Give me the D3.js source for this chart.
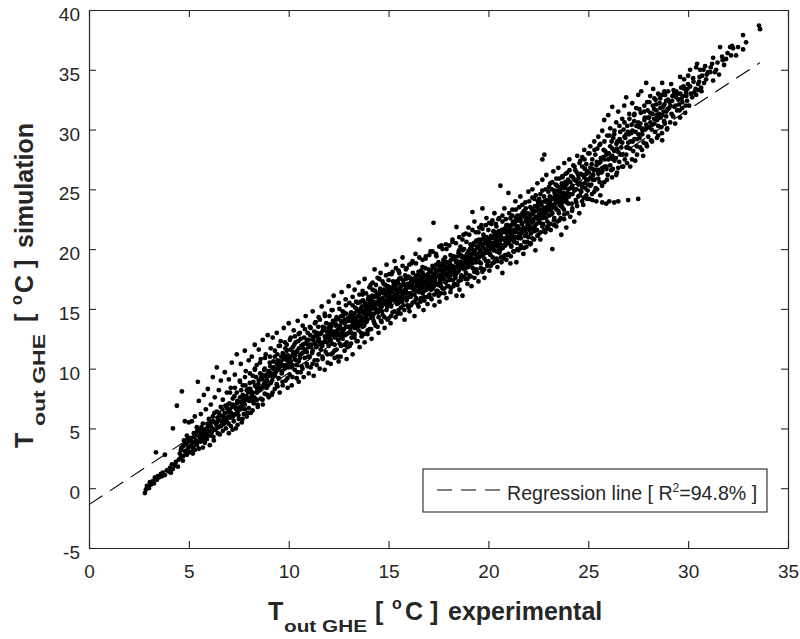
<!DOCTYPE html>
<html>
<head>
<meta charset="utf-8">
<script src="https://cdn.jsdelivr.net/npm/d3@7"></script>
<style>
  html, body { margin: 0; padding: 0; background: #fff; }
  svg { display: block; font-family: "Liberation Sans", Arial, Helvetica, sans-serif; }
  text { white-space: pre; }
</style>
</head>
<body>
<svg id="chart" width="800" height="639"></svg>
<script>
// ---- data ----
const xTicks = [0, 5, 10, 15, 20, 25, 30, 35];
const yTicks = [-5, 0, 5, 10, 15, 20, 25, 30, 35, 40];
const xDomain = [0, 35];
const yDomain = [-5, 40];
// regression line end points [experimental, simulation]
const regressionLine = [[0, -1.37], [33.6, 35.6]];
const legendLabel = ["Regression line [ R", "2", "=94.8% ]"];
// measured points [T_out experimental, T_out simulation] - outer spread
const points = [
[2.8,-0.4],[2.85,-0.1],[2.9,0.2],[3.0,0.0],[3.05,0.5],[3.1,0.3],[3.2,0.6],[3.25,0.4],[3.3,0.9],[3.35,3.0],[3.4,0.7],[3.45,1.0],
[3.5,0.9],[3.6,1.2],[3.65,1.0],[3.7,1.3],[3.8,2.8],[3.8,1.1],[3.9,1.5],[4.0,1.4],[4.05,1.7],[4.1,1.3],[4.15,2.0],[4.2,1.6],[4.2,5.0],[4.3,1.9],[4.35,2.2],[4.4,6.9],[4.45,1.8],[4.5,2.4],
[4.55,2.9],[4.6,3.2],[4.6,2.6],[4.65,8.1],[4.7,3.5],[4.7,2.3],[4.75,4.0],[4.8,3.1],[4.8,5.6],[4.85,3.7],[4.9,2.8],[4.9,4.4],[4.95,3.3],[5.0,3.9],[5.0,5.5],
[5.05,3.0],[5.1,4.2],[5.1,3.5],[5.15,5.6],[5.2,2.9],[5.2,3.8],[5.25,4.6],[5.3,3.2],[5.3,6.0],[5.35,4.0],[5.4,3.6],[5.4,5.1],[5.45,8.9],[5.45,4.4],[5.5,3.3],[5.5,7.3],
[5.55,4.8],[5.6,3.9],[5.6,6.2],[5.65,4.3],[5.7,3.4],[5.7,5.4],[5.75,7.8],[5.8,4.6],[5.8,3.8],[5.85,6.6],[5.9,5.0],[5.9,4.1],[5.95,8.3],[6.0,4.4],[6.0,5.8],
[6.05,3.6],[6.1,5.2],[6.1,7.0],[6.15,4.7],[6.2,9.3],[6.2,6.0],[6.25,4.0],[6.3,5.5],[6.3,7.6],[6.35,4.9],[6.4,10.1],[6.4,6.4],[6.45,4.6],[6.5,8.2],[6.5,5.7],
[6.55,4.5],[6.6,6.8],[6.6,9.0],[6.65,5.3],[6.7,4.8],[6.7,7.4],[6.75,5.9],[6.8,9.7],[6.8,6.3],[6.85,5.0],[6.9,8.0],[6.9,5.6],[6.95,7.0],[7.0,6.0],[7.0,9.1],[7.0,4.6],
[7.05,6.6],[7.1,5.2],[7.1,8.4],[7.15,10.5],[7.2,6.2],[7.2,7.5],[7.25,5.6],[7.3,9.5],[7.3,6.9],[7.35,5.0],[7.4,8.0],[7.4,11.2],[7.45,6.4],[7.5,7.2],[7.5,5.8],
[7.55,9.0],[7.6,6.6],[7.6,10.4],[7.65,5.5],[7.7,7.8],[7.7,8.6],[7.75,6.2],[7.8,11.5],[7.8,7.0],[7.85,9.8],[7.9,6.0],[7.9,8.2],[7.95,7.4],[8.0,10.7],[8.0,6.7],
[8.05,8.8],[8.1,7.6],[8.1,6.3],[8.15,11.0],[8.2,9.4],[8.2,8.0],[8.25,7.1],[8.3,12.0],[8.3,9.9],[8.35,8.5],[8.4,7.4],[8.4,10.3],[8.45,6.8],[8.5,9.0],[8.5,11.6],
[8.55,8.2],[8.6,7.5],[8.6,10.8],[8.65,9.5],[8.7,7.0],[8.7,12.4],[8.75,8.7],[8.8,10.0],[8.8,7.9],[8.85,11.2],[8.9,9.1],[8.9,8.4],[8.95,12.8],[9.0,7.6],[9.0,9.8],
[9.05,10.5],[9.1,8.8],[9.1,11.7],[9.15,7.8],[9.2,9.3],[9.2,12.6],[9.25,10.1],[9.3,8.3],[9.3,11.0],[9.35,9.7],[9.4,13.0],[9.4,8.7],[9.45,10.7],[9.5,9.2],[9.5,11.9],
[9.55,8.0],[9.6,10.2],[9.6,12.3],[9.65,9.6],[9.7,11.3],[9.7,8.6],[9.75,13.4],[9.8,10.0],[9.8,10.9],[9.85,9.0],[9.9,12.0],[9.9,11.5],[9.95,8.4],[10.0,10.4],[10.0,13.8],
[10.05,9.5],[10.1,11.0],[10.1,12.6],[10.15,8.6],[10.2,10.3],[10.2,11.8],[10.25,13.2],[10.3,9.9],[10.3,10.8],[10.35,12.2],[10.4,9.2],[10.4,11.4],[10.45,14.0],[10.5,10.6],[10.5,12.9],[10.5,8.9],
[10.55,11.1],[10.6,9.7],[10.6,12.5],[10.65,10.2],[10.7,13.6],[10.7,11.7],[10.75,9.3],[10.8,10.9],[10.8,12.1],[10.85,14.4],[10.9,10.4],[10.9,11.4],[10.95,13.0],[11.0,9.6],[11.0,12.4],
[11.05,11.0],[11.1,13.4],[11.1,10.1],[11.15,12.0],[11.2,14.8],[11.2,11.5],[11.25,9.4],[11.3,12.7],[11.3,10.7],[11.35,13.9],[11.4,11.9],[11.4,10.3],[11.45,12.3],[11.5,14.3],[11.5,11.2],
[11.55,10.0],[11.6,12.9],[11.6,11.6],[11.65,15.2],[11.7,10.8],[11.7,13.5],[11.75,12.2],[11.8,9.9],[11.8,14.6],[11.85,11.4],[11.9,12.6],[11.9,13.1],[11.95,10.5],[12.0,15.6],[12.0,11.9],
[12.05,13.7],[12.1,10.4],[12.1,12.4],[12.15,14.9],[12.2,11.3],[12.2,13.0],[12.25,16.1],[12.3,12.0],[12.3,10.9],[12.35,13.6],[12.4,14.3],[12.4,11.6],[12.45,12.8],[12.5,15.5],[12.5,10.6],[12.5,13.3],
[12.55,12.1],[12.6,14.0],[12.6,11.0],[12.65,16.4],[12.7,13.1],[12.7,12.5],[12.75,14.7],[12.8,11.5],[12.8,13.8],[12.85,15.8],[12.9,12.2],[12.9,10.8],[12.95,14.2],[13.0,13.0],[13.0,16.9],
[13.05,11.9],[13.1,14.5],[13.1,13.4],[13.15,12.6],[13.2,15.3],[13.2,11.2],[13.25,14.0],[13.3,16.6],[13.3,12.9],[13.35,13.7],[13.4,15.0],[13.4,12.3],[13.45,14.4],[13.5,17.2],[13.5,13.2],
[13.55,11.8],[13.6,15.6],[13.6,14.1],[13.65,12.7],[13.7,16.2],[13.7,13.5],[13.75,14.8],[13.8,12.2],[13.8,17.5],[13.85,15.2],[13.9,13.9],[13.9,14.5],[13.95,12.9],[14.0,16.0],[14.0,15.0],
[14.05,13.3],[14.1,17.0],[14.1,14.6],[14.15,12.5],[14.2,15.5],[14.2,16.6],[14.25,14.0],[14.3,18.3],[14.3,15.1],[14.35,13.6],[14.4,16.2],[14.4,14.8],[14.45,17.6],[14.5,15.7],[14.5,13.0],[14.5,14.3],
[14.55,16.4],[14.6,15.0],[14.6,18.0],[14.65,13.9],[14.7,15.9],[14.7,14.5],[14.75,17.1],[14.8,16.3],[14.8,13.4],[14.85,15.4],[14.9,18.7],[14.9,14.9],[14.95,16.8],[15.0,15.6],[15.0,14.2],[15.0,17.4],
[15.05,16.1],[15.1,13.8],[15.1,15.3],[15.15,17.9],[15.2,16.6],[15.2,14.7],[15.25,15.9],[15.3,19.0],[15.3,16.9],[15.35,14.3],[15.4,15.7],[15.4,17.3],[15.45,16.3],[15.5,14.9],[15.5,18.2],[15.5,15.5],
[15.55,16.7],[15.6,14.6],[15.6,17.6],[15.65,15.9],[15.7,16.2],[15.7,19.3],[15.75,15.3],[15.8,17.0],[15.8,14.1],[15.85,16.5],[15.9,18.4],[15.9,15.7],[15.95,16.9],[16.0,17.7],[16.0,15.1],[16.0,16.3],
[16.05,14.8],[16.1,17.2],[16.1,16.0],[16.15,18.8],[16.2,15.5],[16.2,16.7],[16.25,17.5],[16.3,14.4],[16.3,16.2],[16.35,19.6],[16.4,17.0],[16.4,15.8],[16.45,16.5],[16.5,18.1],[16.5,15.2],[16.5,17.4],
[16.55,20.8],[16.6,16.9],[16.6,15.6],[16.65,17.7],[16.7,16.3],[16.7,18.5],[16.75,14.9],[16.8,17.1],[16.8,16.0],[16.85,19.2],[16.9,16.6],[16.9,17.8],[16.95,15.4],[17.0,18.3],[17.0,16.8],[17.0,17.4],
[17.05,16.2],[17.1,19.8],[17.1,17.6],[17.15,15.8],[17.2,16.9],[17.2,18.6],[17.25,22.2],[17.3,17.2],[17.3,15.3],[17.35,18.0],[17.4,16.5],[17.4,19.4],[17.45,17.8],[17.5,16.1],[17.5,18.9],[17.5,17.0],
[17.55,15.6],[17.6,17.5],[17.6,18.3],[17.65,20.3],[17.7,16.7],[17.7,17.9],[17.75,19.1],[17.8,16.3],[17.8,18.6],[17.85,17.2],[17.9,15.9],[17.9,20.0],[17.95,17.7],[18.0,18.9],[18.0,16.9],[18.0,18.2],
[18.05,17.4],[18.1,19.5],[18.1,16.4],[18.15,18.5],[18.2,17.9],[18.2,20.6],[18.25,16.9],[18.3,18.1],[18.3,19.2],[18.35,17.6],[18.4,16.1],[18.4,21.85],[18.45,18.8],[18.5,17.3],[18.5,19.7],[18.5,18.4],
[18.55,16.6],[18.6,18.9],[18.6,20.2],[18.65,17.8],[18.7,19.4],[18.7,16.1],[18.75,21.2],[18.8,18.3],[18.8,19.0],[18.85,17.5],[18.9,20.6],[18.9,18.7],[18.95,17.1],[19.0,19.8],[19.0,21.8],[19.0,18.5],
[19.05,17.8],[19.1,19.3],[19.1,20.4],[19.15,16.9],[19.2,18.8],[19.2,23.1],[19.25,19.9],[19.3,17.6],[19.3,22.3],[19.35,19.1],[19.4,20.7],[19.4,18.3],[19.45,19.6],[19.5,21.4],[19.5,17.3],[19.5,20.1],
[19.55,18.9],[19.6,20.5],[19.6,19.4],[19.65,22.0],[19.7,18.1],[19.7,23.4],[19.75,21.2],[19.8,19.2],[19.8,17.6],[19.85,20.8],[19.9,19.7],[19.9,22.6],[19.95,18.6],[20.0,20.3],[20.0,21.6],[20.0,19.0],
[20.05,18.2],[20.1,20.9],[20.1,19.5],[20.15,22.1],[20.2,20.1],[20.2,18.8],[20.25,21.5],[20.3,19.9],[20.3,23.0],[20.35,20.6],[20.4,19.2],[20.4,21.9],[20.45,18.5],[20.5,20.4],[20.5,22.5],[20.6,25.3],
[20.55,19.7],[20.6,21.2],[20.6,20.0],[20.65,18.9],[20.7,22.3],[20.7,18.0],[20.75,19.4],[20.8,21.7],[20.8,23.4],[20.85,20.3],[20.9,19.1],[20.9,22.0],[20.95,21.0],[21.0,20.5],[21.0,24.7],[21.0,19.6],
[21.05,21.4],[21.1,18.8],[21.1,22.6],[21.15,20.2],[21.2,21.1],[21.2,23.3],[21.25,19.8],[21.3,22.1],[21.3,20.6],[21.35,24.0],[21.4,18.9],[21.4,21.6],[21.45,22.8],[21.5,20.9],[21.5,19.9],
[21.55,22.4],[21.6,21.2],[21.6,24.4],[21.65,20.1],[21.7,23.0],[21.7,21.7],[21.75,19.6],[21.8,22.7],[21.8,20.6],[21.85,23.9],[21.9,21.3],[21.9,20.2],[21.95,22.2],[22.0,24.8],[22.0,21.0],
[22.05,22.6],[22.1,20.4],[22.1,23.5],[22.15,21.8],[22.2,25.0],[22.2,20.9],[22.25,22.9],[22.3,24.2],[22.3,21.5],[22.35,19.9],[22.4,23.2],[22.4,22.1],[22.45,25.5],[22.5,21.2],[22.5,23.8],
[22.55,22.5],[22.6,24.6],[22.6,20.8],[22.65,23.1],[22.7,21.9],[22.7,25.8],[22.75,22.8],[22.8,27.9],[22.7,27.5],[22.8,24.0],[22.85,21.4],[22.9,23.5],[22.9,26.2],[22.95,22.3],[23.0,24.8],[23.0,21.7],
[23.05,23.4],[23.1,25.5],[23.1,22.1],[23.15,24.3],[23.2,20.0],[23.2,23.0],[23.25,26.5],[23.3,24.9],[23.3,22.6],[23.35,23.8],[23.4,25.9],[23.4,21.9],[23.45,24.5],[23.5,23.2],[23.5,26.8],
[23.55,22.4],[23.6,25.2],[23.6,24.0],[23.65,21.2],[23.7,26.0],[23.7,23.5],[23.75,24.7],[23.8,27.2],[23.8,22.9],[23.85,25.6],[23.9,24.2],[23.9,21.8],[23.95,26.4],[24.0,23.8],[24.0,25.0],
[24.05,27.5],[24.1,22.7],[24.1,24.6],[24.15,26.1],[24.2,25.3],[24.2,23.4],[24.25,27.0],[24.3,24.9],[24.3,22.3],[24.35,26.6],[24.4,25.7],[24.4,23.9],[24.45,27.8],[24.5,24.4],[24.5,26.2],
[24.55,23.0],[24.6,25.5],[24.6,27.4],[24.65,24.8],[24.7,26.9],[24.7,27.7],[24.75,23.7],[24.8,26.0],[24.8,28.3],[24.85,25.1],[24.9,27.1],[24.9,24.5],[24.95,26.5],[25.0,28.0],[25.0,25.8],
[25.05,24.2],[25.1,26.8],[25.1,28.6],[25.15,25.4],[25.2,24.1],[25.2,27.5],[25.25,26.2],[25.3,29.0],[25.3,24.8],[25.35,27.9],[25.4,26.6],[25.4,24.0],[25.45,28.4],[25.5,25.9],[25.5,29.4],
[25.55,27.2],[25.6,24.5],[25.6,28.8],[25.65,26.4],[25.7,23.9],[25.7,29.9],[25.75,27.7],[25.8,25.6],[25.8,30.8],[25.85,28.2],[25.9,23.8],[25.9,26.9],[25.95,29.5],[26.0,27.5],[26.0,31.2],
[26.05,24.0],[26.1,28.6],[26.1,30.1],[26.15,26.6],[26.2,31.9],[26.2,27.8],[26.25,29.3],[26.3,23.9],[26.3,28.2],[26.4,30.6],[26.4,26.2],[26.45,29.0],[26.5,24.0],[26.5,31.5],
[26.55,27.3],[26.6,29.8],[26.65,28.5],[26.75,26.9],[26.7,30.9],[26.8,32.0],[26.85,29.3],[26.9,27.9],[26.9,32.7],[26.95,30.3],[27.0,24.1],[27.0,28.9],
[27.05,31.3],[27.1,26.9],[27.15,29.7],[27.2,32.2],[27.25,28.2],[27.3,30.7],[27.35,27.4],[27.4,31.8],[27.45,29.2],[27.5,24.2],[27.5,32.9],
[27.55,30.2],[27.6,28.5],[27.65,33.2],[27.7,29.6],[27.75,27.8],[27.8,31.5],[27.85,30.0],[27.9,33.9],[27.9,28.8],[27.95,32.3],[28.0,29.4],
[28.05,31.0],[28.1,32.8],[28.15,29.1],[28.2,30.4],[28.25,33.4],[28.3,31.7],[28.35,29.8],[28.4,32.1],[28.45,30.8],[28.5,33.0],[28.5,29.5],
[28.55,31.3],[28.6,32.6],[28.65,30.2],[28.7,29.1],[28.7,33.9],[28.75,31.9],[28.8,30.7],[28.85,32.9],[28.9,31.1],[28.95,30.1],[29.0,33.2],
[29.05,31.8],[29.1,30.6],[29.15,33.8],[29.2,32.4],[29.25,31.1],[29.3,33.0],[29.35,30.5],[29.4,32.7],[29.45,31.6],[29.6,34.4],
[29.55,32.1],[29.6,31.0],[29.65,33.5],[29.7,31.8],[29.75,32.8],[29.8,34.2],[29.85,31.4],[29.9,33.1],[29.95,32.4],[30.0,34.5],
[30.05,32.0],[30.1,33.6],[30.1,35.0],[30.2,32.7],[30.25,34.3],[30.3,33.1],[30.4,35.2],[30.4,32.9],[30.45,35.5],[30.5,33.8],[30.5,33.3],
[30.55,34.0],[30.6,35.0],[30.65,33.5],[30.7,34.5],[30.8,33.9],[30.85,35.3],[30.9,34.2],[31.0,34.8],
[31.1,34.8],[31.2,35.5],[31.25,34.1],[31.25,36.0],[31.4,35.0],[31.55,34.6],[31.6,36.9],[31.7,36.1],[31.8,35.4],[31.9,35.9],
[32.1,36.9],[32.2,37.0],[32.25,36.8],[32.4,36.2],[32.75,36.7],[32.75,37.9],[32.9,37.3],[33.55,38.7],[33.6,38.4]
];
// measured points - dense core of the cloud
const pointsCore = [
[4.63,3.4],[4.72,2.7],[4.78,3.6],[4.87,3.0],[4.93,4.1],[5.03,3.5],[5.12,3.9],[5.18,3.1],[5.27,4.3],[5.33,3.7],[5.42,4.8],[5.48,3.9],[5.57,4.2],[5.63,5.1],[5.72,4.0],[5.78,4.9],[5.87,4.4],[5.93,5.4],
[6.03,4.8],[6.08,5.5],[6.17,5.0],[6.23,4.3],[6.28,6.3],[6.37,5.3],[6.43,5.9],[6.48,5.1],[6.57,6.1],[6.62,5.6],[6.68,6.6],[6.77,5.4],[6.83,6.9],[6.88,5.9],[6.97,6.4],
[7.03,7.1],[7.08,5.9],[7.17,6.8],[7.22,6.0],[7.28,7.7],[7.37,6.6],[7.43,7.3],[7.48,6.1],[7.57,7.6],[7.62,8.2],[7.68,6.9],[7.77,7.3],[7.83,8.6],[7.88,7.7],[7.97,8.0],
[8.03,7.3],[8.08,8.3],[8.17,7.9],[8.23,8.9],[8.28,7.6],[8.37,9.3],[8.43,8.2],[8.48,8.7],[8.57,9.6],[8.63,8.4],[8.68,9.1],[8.77,9.9],[8.83,8.8],[8.88,9.5],[8.97,8.6],
[9.03,9.4],[9.08,10.2],[9.17,9.0],[9.23,10.6],[9.28,9.6],[9.37,10.0],[9.43,11.2],[9.48,9.9],[9.57,10.5],[9.63,11.0],[9.68,9.8],[9.77,10.8],[9.83,11.7],[9.88,10.3],[9.97,11.1],
[10.03,10.9],[10.08,11.6],[10.17,10.1],[10.23,11.2],[10.28,12.0],[10.37,10.7],[10.43,11.5],[10.48,12.3],[10.57,10.9],[10.63,11.9],[10.68,11.3],[10.77,12.6],[10.83,11.6],[10.88,12.1],[10.97,11.0],
[11.03,12.0],[11.08,12.8],[11.17,11.3],[11.23,12.4],[11.28,13.1],[11.37,11.8],[11.43,12.7],[11.48,13.5],[11.57,12.2],[11.63,13.0],[11.68,11.9],[11.77,13.4],[11.83,12.5],[11.88,13.8],[11.97,12.9],
[12.03,12.6],[12.08,13.3],[12.17,12.1],[12.23,13.8],[12.28,12.9],[12.37,14.1],[12.43,13.2],[12.48,12.4],[12.57,13.6],[12.63,14.4],[12.68,13.0],[12.77,13.9],[12.83,12.8],[12.88,14.6],[12.97,13.5],
[13.03,14.0],[13.07,13.1],[13.13,14.7],[13.18,13.6],[13.22,14.3],[13.27,12.8],[13.33,15.1],[13.38,14.0],[13.42,13.4],[13.47,15.5],[13.53,14.4],[13.58,13.8],[13.62,15.0],[13.67,14.2],[13.72,15.7],[13.78,13.6],[13.83,14.9],[13.88,15.4],[13.93,14.1],[13.97,15.8],
[14.03,14.8],[14.07,15.6],[14.13,14.3],[14.18,16.1],[14.22,15.2],[14.27,14.6],[14.33,16.5],[14.38,15.4],[14.42,14.9],[14.47,16.0],[14.53,15.3],[14.58,16.7],[14.62,15.8],[14.67,14.8],[14.72,16.3],[14.78,15.5],[14.83,17.0],[14.88,16.1],[14.93,15.2],[14.97,16.5],
[15.03,15.9],[15.07,16.8],[15.13,15.2],[15.18,16.4],[15.22,17.3],[15.27,15.7],[15.33,16.2],[15.38,17.0],[15.42,15.4],[15.47,16.6],[15.53,17.5],[15.58,16.0],[15.62,16.9],[15.67,15.6],[15.72,17.4],[15.78,16.3],[15.83,17.8],[15.88,16.7],[15.93,15.9],[15.97,17.1],
[16.03,16.8],[16.07,17.6],[16.13,16.2],[16.18,17.1],[16.22,18.0],[16.27,16.6],[16.33,17.4],[16.38,15.9],[16.42,17.8],[16.47,16.9],[16.53,16.4],[16.58,17.3],[16.62,18.2],[16.67,16.8],[16.72,17.6],[16.78,16.5],[16.83,18.4],[16.88,17.2],[16.93,16.9],[16.97,17.9],
[17.03,17.2],[17.07,18.1],[17.13,16.6],[17.18,17.7],[17.22,18.4],[17.27,16.9],[17.33,17.5],[17.38,18.7],[17.42,17.1],[17.47,16.4],[17.53,18.2],[17.58,17.4],[17.62,16.9],[17.67,18.6],[17.72,17.6],[17.78,18.0],[17.83,19.3],[17.88,17.3],[17.93,18.5],[17.97,17.9],
[18.03,18.6],[18.07,17.7],[18.13,19.1],[18.18,18.2],[18.22,17.4],[18.27,19.4],[18.33,18.5],[18.38,17.9],[18.42,19.0],[18.47,18.1],[18.53,19.9],[18.58,18.6],[18.62,17.6],[18.67,19.3],[18.72,18.4],[18.78,20.0],[18.83,18.9],[18.88,18.0],[18.93,19.6],[18.97,19.1],
[19.03,19.5],[19.07,18.7],[19.13,20.1],[19.18,19.2],[19.22,18.4],[19.27,20.5],[19.33,19.6],[19.38,18.9],[19.42,20.2],[19.47,19.3],[19.53,20.8],[19.58,19.8],[19.62,18.8],[19.67,20.4],[19.72,19.5],[19.78,21.0],[19.83,20.0],[19.88,19.0],[19.93,20.7],[19.97,19.9],
[20.03,20.5],[20.07,19.6],[20.13,21.1],[20.18,20.2],[20.22,19.3],[20.27,20.9],[20.33,20.3],[20.38,21.4],[20.42,19.8],[20.47,20.7],[20.53,21.3],[20.58,19.9],[20.62,20.8],[20.67,21.6],[20.72,20.1],[20.78,20.9],[20.83,19.5],[20.88,21.5],[20.93,20.6],[20.97,22.0],
[21.03,20.9],[21.07,21.8],[21.13,20.3],[21.18,21.5],[21.22,22.3],[21.27,20.8],[21.33,21.4],[21.38,22.6],[21.42,20.5],[21.47,21.9],[21.53,21.3],[21.58,22.8],[21.62,20.9],[21.67,22.1],[21.72,21.5],[21.78,23.2],[21.83,21.1],[21.88,22.4],[21.93,21.7],[21.97,23.0],
[22.03,21.9],[22.08,22.8],[22.13,21.3],[22.18,23.3],[22.23,22.3],[22.28,21.7],[22.33,23.6],[22.38,22.6],[22.43,21.6],[22.48,24.0],[22.53,22.9],[22.58,22.2],[22.63,23.9],[22.68,23.0],[22.73,22.1],[22.78,24.4],[22.83,23.2],[22.88,22.6],[22.93,24.1],[22.98,23.6],
[23.03,22.8],[23.08,24.0],[23.13,23.2],[23.18,25.0],[23.23,23.7],[23.28,22.4],[23.33,24.4],[23.38,23.4],[23.43,25.3],[23.48,24.0],[23.53,23.0],[23.58,24.8],[23.63,23.6],[23.68,25.5],[23.73,24.2],[23.78,23.3],[23.83,25.1],[23.88,24.6],[23.93,23.9],[23.98,25.8],
[24.03,24.4],[24.1,25.6],[24.17,23.8],[24.23,26.0],[24.3,25.0],[24.37,24.1],[24.43,26.4],[24.5,25.4],[24.57,24.5],[24.63,26.3],[24.7,25.2],[24.77,24.3],[24.83,26.7],[24.9,25.8],[24.97,24.9],
[25.03,26.4],[25.1,25.3],[25.17,27.1],[25.23,25.8],[25.3,26.6],[25.37,25.1],[25.43,27.3],[25.5,26.3],[25.57,25.6],[25.63,27.6],[25.7,26.5],[25.77,28.3],[25.83,26.9],[25.9,27.9],[25.97,26.2],
[26.03,28.0],[26.1,27.0],[26.17,29.0],[26.23,26.7],[26.3,29.6],[26.37,27.6],[26.43,28.4],[26.5,26.8],[26.57,29.2],[26.63,27.9],[26.7,28.9],[26.77,30.0],[26.83,27.5],[26.9,29.6],[26.97,28.5],
[27.03,29.6],[27.1,28.4],[27.17,30.4],[27.23,29.0],[27.3,31.2],[27.37,29.8],[27.43,28.6],[27.5,30.6],[27.57,29.3],[27.63,31.4],[27.7,30.1],[27.77,28.9],[27.83,31.0],[27.9,30.4],[27.97,31.6],
[28.03,30.2],[28.1,31.4],[28.17,30.0],[28.23,32.0],[28.3,30.9],[28.37,32.5],[28.43,31.2],[28.5,30.3],[28.57,32.2],[28.63,31.0],[28.7,32.9],[28.77,31.5],[28.83,30.5],[28.9,32.4],[28.97,31.7],
[29.07,32.3],[29.17,31.3],[29.27,33.3],[29.37,32.0],[29.47,33.0],[29.57,31.6],[29.67,32.6],[29.77,33.6],[29.87,32.0],[29.97,33.4],
[30.13,33.0],[30.27,34.0],[30.37,33.4],[30.57,34.4],[30.67,33.2],[30.77,35.0],[30.93,34.6],
[31.13,35.2],[31.33,34.8],[31.47,35.6],[31.73,35.8],[31.97,36.4],[32.15,36.2],[32.5,36.9]
];
// measured points - densest middle of the band
const pointsDense = [
[5.11,4.0],[5.21,3.4],[5.31,4.5],[5.41,3.8],[5.51,4.9],[5.61,4.5],[5.71,4.7],[5.81,4.2],[5.91,4.7],[5.99,5.2],
[6.11,4.4],[6.21,5.6],[6.31,4.9],[6.41,5.5],[6.51,6.3],[6.61,5.2],[6.71,6.0],[6.81,5.7],[6.91,6.7],[6.99,5.4],
[7.11,6.3],[7.21,7.0],[7.31,6.2],[7.41,7.1],[7.51,6.7],[7.61,7.2],[7.71,7.5],[7.81,6.6],[7.91,7.4],[7.99,8.3],
[8.11,8.1],[8.21,7.3],[8.31,8.6],[8.41,8.0],[8.51,8.4],[8.61,9.2],[8.71,8.5],[8.81,9.4],[8.91,9.0],[8.99,9.7],
[9.11,9.6],[9.21,10.0],[9.31,9.4],[9.41,10.4],[9.51,10.1],[9.61,10.6],[9.71,10.3],[9.81,11.1],[9.91,10.7],[9.99,10.1],
[10.11,10.6],[10.21,11.4],[10.31,11.1],[10.41,10.3],[10.51,11.7],[10.61,11.2],[10.71,12.0],[10.81,11.4],[10.91,12.4],[10.99,11.8],
[11.11,11.8],[11.21,12.6],[11.31,12.1],[11.41,13.0],[11.51,12.5],[11.61,12.0],[11.71,13.2],[11.81,12.7],[11.91,12.2],[11.99,13.4],
[12.02,13.0],[12.07,12.3],[12.12,13.5],[12.16,12.8],[12.21,14.0],[12.26,13.1],[12.31,12.6],[12.36,13.7],[12.41,13.0],[12.46,14.2],[12.52,12.9],[12.56,13.4],[12.61,12.7],[12.66,13.9],[12.71,14.4],[12.76,13.3],[12.81,14.1],[12.86,13.5],[12.91,12.9],[12.96,14.0],
[13.02,13.5],[13.07,14.3],[13.12,13.0],[13.16,14.0],[13.21,13.7],[13.26,14.6],[13.31,13.4],[13.36,14.2],[13.41,14.8],[13.46,13.9],[13.52,13.6],[13.56,14.7],[13.61,14.3],[13.66,15.2],[13.71,14.0],[13.76,14.6],[13.81,15.5],[13.86,14.3],[13.91,15.0],[13.96,14.6],
[14.02,15.3],[14.07,14.5],[14.12,15.8],[14.16,15.0],[14.21,14.3],[14.26,15.6],[14.31,16.0],[14.36,15.0],[14.41,15.5],[14.46,14.7],[14.52,16.2],[14.56,15.5],[14.61,16.4],[14.66,15.2],[14.71,15.8],[14.76,16.6],[14.81,15.6],[14.86,16.3],[14.91,15.7],[14.96,16.9],
[15.02,16.3],[15.07,15.5],[15.12,16.7],[15.16,15.8],[15.21,16.0],[15.26,17.0],[15.31,15.9],[15.36,16.6],[15.41,16.1],[15.46,17.2],[15.52,16.4],[15.56,15.8],[15.61,17.0],[15.66,16.5],[15.71,15.9],[15.76,17.1],[15.81,16.6],[15.86,17.5],[15.91,16.3],[15.96,17.6],
[16.02,17.0],[16.07,16.3],[16.12,17.5],[16.16,16.9],[16.21,16.2],[16.26,17.3],[16.31,16.8],[16.36,17.7],[16.41,16.5],[16.46,17.2],[16.52,17.8],[16.56,16.6],[16.61,17.5],[16.66,17.0],[16.71,18.0],[16.76,17.3],[16.81,16.7],[16.86,17.8],[16.91,17.4],[16.96,16.9],
[17.02,17.7],[17.07,17.0],[17.12,18.1],[17.16,17.3],[17.21,16.7],[17.26,17.9],[17.31,17.4],[17.36,18.3],[17.41,17.7],[17.46,17.1],[17.52,18.6],[17.56,17.8],[17.61,17.2],[17.66,18.2],[17.71,18.8],[17.76,17.5],[17.81,18.3],[17.86,17.9],[17.91,18.9],[17.96,18.4],
[18.02,18.1],[18.07,18.8],[18.12,17.9],[18.16,18.6],[18.21,19.2],[18.26,18.3],[18.31,17.8],[18.36,19.0],[18.41,18.5],[18.46,19.4],[18.52,18.2],[18.56,18.9],[18.61,19.5],[18.66,18.6],[18.71,19.9],[18.76,18.8],[18.81,19.3],[18.86,18.4],[18.91,19.5],[18.96,18.9],
[19.02,19.2],[19.07,20.0],[19.12,19.0],[19.16,19.6],[19.21,20.3],[19.26,19.2],[19.31,19.9],[19.36,20.6],[19.41,19.5],[19.46,20.1],[19.52,19.3],[19.56,20.4],[19.61,19.9],[19.66,20.8],[19.71,20.2],[19.76,19.6],[19.81,20.5],[19.86,19.8],[19.91,21.0],[19.96,20.3],
[20.02,19.8],[20.07,20.6],[20.12,20.0],[20.16,21.0],[20.21,20.5],[20.26,19.9],[20.31,21.2],[20.36,20.4],[20.41,21.0],[20.46,20.2],[20.52,21.5],[20.56,20.6],[20.61,21.1],[20.66,20.3],[20.71,21.4],[20.76,20.8],[20.81,21.7],[20.86,20.5],[20.91,21.3],[20.96,20.9],
[21.02,21.6],[21.07,20.7],[21.12,21.2],[21.16,22.0],[21.21,20.9],[21.26,21.6],[21.31,22.3],[21.36,21.0],[21.41,21.8],[21.46,22.4],[21.52,21.1],[21.56,21.7],[21.61,22.5],[21.66,21.4],[21.71,22.2],[21.76,21.8],[21.81,22.9],[21.86,21.6],[21.91,22.6],[21.96,22.0],
[22.02,22.4],[22.07,21.6],[22.12,22.9],[22.16,22.2],[22.21,23.3],[22.26,22.5],[22.31,21.9],[22.36,23.2],[22.41,22.7],[22.46,23.5],[22.52,22.4],[22.56,23.3],[22.61,22.8],[22.66,23.7],[22.71,22.6],[22.76,23.4],[22.81,22.9],[22.86,24.0],[22.91,23.1],[22.96,23.9],
[23.02,23.3],[23.07,24.4],[23.12,23.7],[23.16,22.9],[23.21,24.2],[23.26,23.5],[23.31,24.7],[23.36,24.1],[23.41,23.3],[23.46,24.9],[23.52,24.3],[23.56,23.7],[23.61,25.0],[23.66,24.4],[23.71,23.9],[23.76,25.3],[23.81,24.5],[23.86,24.0],[23.91,25.4],[23.96,24.7],
[24.11,25.1],[24.21,24.6],[24.31,25.8],[24.41,25.0],[24.51,25.9],[24.61,24.9],[24.71,26.2],[24.81,25.5],[24.91,26.3],[24.99,25.4],
[25.11,26.0],[25.21,26.7],[25.31,25.8],[25.41,27.0],[25.51,26.6],[25.61,27.3],[25.71,26.8],[25.81,27.5],[25.91,26.7],[25.99,28.0],
[26.11,27.6],[26.21,28.4],[26.31,27.4],[26.41,28.8],[26.51,28.1],[26.61,29.0],[26.71,27.9],[26.81,29.4],[26.91,28.5],[26.99,29.8],
[27.11,29.0],[27.21,29.9],[27.31,29.2],[27.41,30.3],[27.51,29.6],[27.61,30.5],[27.71,29.9],[27.81,30.8],[27.91,30.1],[27.99,31.0],
[28.11,30.6],[28.21,31.3],[28.31,30.5],[28.41,31.6],[28.51,31.0],[28.61,31.8],[28.71,31.2],[28.81,32.1],[28.91,31.5],[28.99,32.5],
[29.11,32.0],[29.21,32.8],[29.31,31.9],[29.41,33.2],[29.51,32.5],[29.61,33.0],[29.71,32.3],[29.81,33.4],[29.91,32.8],[29.99,33.8]
];
// measured points - shoulders of the band (between core and outer spread)
const pointsMid = [
[7.06,8.0],[7.19,4.9],[7.31,8.4],[7.44,5.3],[7.56,8.9],[7.69,5.8],[7.81,9.3],[7.94,6.3],
[8.06,9.6],[8.19,6.5],[8.31,10.0],[8.44,7.0],[8.56,10.5],[8.69,7.4],[8.81,10.9],[8.94,7.8],
[9.06,11.0],[9.19,8.0],[9.31,11.5],[9.44,8.5],[9.56,11.9],[9.69,8.9],[9.81,12.2],[9.94,9.2],
[10.06,12.4],[10.19,9.3],[10.31,12.7],[10.44,9.7],[10.56,13.0],[10.69,10.0],[10.81,13.3],[10.94,10.2],
[11.06,13.5],[11.19,10.4],[11.31,13.8],[11.44,10.7],[11.56,14.1],[11.69,11.0],[11.81,14.4],[11.94,11.2],
[12.04,14.4],[12.12,11.2],[12.2,14.9],[12.29,11.5],[12.37,14.2],[12.45,11.0],[12.54,15.0],[12.62,11.9],[12.7,14.8],[12.79,12.0],[12.87,15.3],[12.95,11.8],
[13.04,15.5],[13.12,12.1],[13.2,16.0],[13.29,12.6],[13.37,15.6],[13.45,12.3],[13.54,16.2],[13.62,13.0],[13.7,16.5],[13.79,12.9],[13.87,16.3],[13.95,13.2],
[14.04,16.8],[14.12,13.3],[14.2,17.2],[14.29,13.8],[14.37,17.0],[14.45,13.5],[14.54,17.5],[14.62,14.0],[14.7,17.3],[14.79,14.3],[14.87,17.8],[14.95,14.1],
[15.04,17.9],[15.12,14.4],[15.2,18.1],[15.29,14.8],[15.37,18.4],[15.45,14.6],[15.54,18.0],[15.62,15.1],[15.7,18.6],[15.79,14.9],[15.87,18.3],[15.95,15.3],
[16.04,18.7],[16.12,15.3],[16.2,19.0],[16.29,15.6],[16.37,18.8],[16.45,15.4],[16.54,19.3],[16.62,15.9],[16.7,19.1],[16.79,15.7],[16.87,19.4],[16.95,16.0],
[17.04,19.5],[17.12,15.9],[17.2,19.8],[17.29,16.2],[17.37,19.6],[17.45,16.5],[17.54,20.2],[17.62,16.3],[17.7,20.0],[17.79,16.7],[17.87,20.4],[17.95,16.9],
[18.04,20.3],[18.12,16.7],[18.2,20.8],[18.29,17.1],[18.37,20.5],[18.45,17.0],[18.54,21.0],[18.62,17.4],[18.7,20.8],[18.79,17.7],[18.87,21.3],[18.95,17.5],
[19.04,21.2],[19.12,17.7],[19.2,21.6],[19.29,18.1],[19.37,21.4],[19.45,18.0],[19.54,21.8],[19.62,18.4],[19.7,21.7],[19.79,18.3],[19.87,22.0],[19.95,18.7],
[20.04,22.2],[20.12,18.6],[20.2,22.4],[20.29,18.9],[20.37,22.1],[20.45,19.0],[20.54,22.6],[20.62,19.3],[20.7,22.8],[20.79,19.2],[20.87,22.5],[20.95,19.5],
[21.04,23.0],[21.12,19.4],[21.2,22.8],[21.29,19.8],[21.37,23.3],[21.45,20.0],[21.54,23.5],[21.62,20.3],[21.7,23.7],[21.79,20.1],[21.87,23.4],[21.95,20.6],
[22.04,24.0],[22.12,20.5],[22.2,24.3],[22.29,20.8],[22.37,24.5],[22.45,21.1],[22.54,24.2],[22.62,21.4],[22.7,24.9],[22.79,21.6],[22.87,25.0],[22.95,21.9],
[23.04,25.2],[23.12,21.6],[23.2,25.6],[23.29,22.0],[23.37,25.4],[23.45,22.3],[23.54,25.9],[23.62,22.6],[23.7,26.1],[23.79,22.5],[23.87,26.3],[23.95,23.0],
[24.06,26.6],[24.19,23.2],[24.31,26.9],[24.44,23.6],[24.56,27.2],[24.69,24.0],[24.81,27.5],[24.94,24.2],
[25.06,28.0],[25.19,24.6],[25.31,28.3],[25.44,25.0],[25.56,28.7],[25.69,25.3],[25.81,29.0],[25.94,25.8],
[26.06,29.5],[26.19,26.0],[26.31,29.9],[26.44,26.4],[26.56,30.3],[26.69,26.9],[26.81,30.6],[26.94,27.2],
[27.06,30.9],[27.19,27.5],[27.31,31.3],[27.44,27.9],[27.56,31.7],[27.69,28.3],[27.81,32.0],[27.94,28.6],
[28.06,32.3],[28.19,29.0],[28.31,32.6],[28.44,29.3],[28.56,32.9],[28.69,29.7],[28.81,33.2],[28.94,30.0]
];

// ---- layout ----
const svg = d3.select("#chart");
const plotLeft = 89, plotRight = 788, plotTop = 10, plotBottom = 548;
const axisColor = "#262626";
const fontFamily = '"Liberation Sans", Arial, Helvetica, sans-serif';

const x = d3.scaleLinear().domain(xDomain).range([plotLeft, plotRight]);
const y = d3.scaleLinear().domain(yDomain).range([plotBottom, plotTop]);

svg.append("rect").attr("x", plotLeft).attr("y", plotTop)
  .attr("width", plotRight - plotLeft).attr("height", plotBottom - plotTop).attr("fill", "#fff");

// points
const allPoints = points.concat(pointsCore, pointsDense, pointsMid);
svg.append("g").selectAll("circle").data(allPoints).join("circle")
  .attr("cx", d => x(d[0])).attr("cy", d => y(d[1])).attr("r", 2.4).attr("fill", "#000");

// regression line
svg.append("path").datum(regressionLine)
  .attr("d", d3.line().x(d => x(d[0])).y(d => y(d[1])))
  .attr("fill", "none").attr("stroke", "#000").attr("stroke-width", 1.1)
  .attr("stroke-dasharray", "16,9");

// axes
function styleAxis(g) {
  g.selectAll("path.domain").attr("stroke", axisColor).attr("stroke-width", 1.2);
  g.selectAll(".tick line").attr("stroke", axisColor).attr("stroke-width", 1.1);
  g.selectAll(".tick text").attr("fill", axisColor).attr("font-size", 19).attr("font-family", fontFamily);
}
const tickText = d => String(d);
const xAxis = svg.append("g").attr("transform", `translate(0,${plotBottom})`)
  .call(d3.axisBottom(x).tickValues(xTicks).tickFormat(tickText).tickSizeInner(-7).tickSizeOuter(0).tickPadding(17));
styleAxis(xAxis);
const xAxisTop = svg.append("g").attr("transform", `translate(0,${plotTop})`)
  .call(d3.axisTop(x).tickValues(xTicks).tickFormat("").tickSizeInner(-7).tickSizeOuter(0));
styleAxis(xAxisTop);
const yAxis = svg.append("g").attr("transform", `translate(${plotLeft},0)`)
  .call(d3.axisLeft(y).tickValues(yTicks).tickFormat(tickText).tickSizeInner(-7).tickSizeOuter(0).tickPadding(9));
styleAxis(yAxis);
yAxis.selectAll(".tick text").attr("dy", "0.55em");
const yAxisRight = svg.append("g").attr("transform", `translate(${plotRight},0)`)
  .call(d3.axisRight(y).tickValues(yTicks).tickFormat("").tickSizeInner(-7).tickSizeOuter(0));
styleAxis(yAxisRight);

// legend
const lg = svg.append("g");
lg.append("rect").attr("x", 423).attr("y", 469).attr("width", 344).attr("height", 43)
  .attr("fill", "#fff").attr("stroke", axisColor).attr("stroke-width", 1.1);
lg.append("line").attr("x1", 437).attr("x2", 500).attr("y1", 490).attr("y2", 490)
  .attr("stroke", "#000").attr("stroke-width", 1.1).attr("stroke-dasharray", "15,9");
const lt = lg.append("text").attr("x", 507).attr("y", 500).attr("font-size", 19.6).attr("fill", axisColor);
lt.append("tspan").text(legendLabel[0]);
lt.append("tspan").attr("font-size", 12).attr("dy", -8).text(legendLabel[1]);
lt.append("tspan").attr("dy", 8).text(legendLabel[2]);

// axis labels: pieces placed along the text direction
function axisLabel(textSel, pos, subLen, tail) {
  textSel.attr("font-weight", "bold").attr("fill", axisColor).attr("font-size", 25).attr("text-anchor", "start");
  textSel.append("tspan").attr("x", pos[0]).attr("y", 0).text("T");
  textSel.append("tspan").attr("x", pos[1]).attr("y", 12).attr("font-size", 17)
    .attr("textLength", subLen).attr("lengthAdjust", "spacingAndGlyphs").text("out GHE");
  textSel.append("tspan").attr("x", pos[2]).attr("y", 0).text("[");
  textSel.append("tspan").attr("x", pos[3]).attr("y", -11).attr("font-size", 16).text("o");
  textSel.append("tspan").attr("x", pos[4]).attr("y", 0).text("C");
  textSel.append("tspan").attr("x", pos[5]).attr("y", 0).text("]");
  textSel.append("tspan").attr("x", pos[6]).attr("y", 0).text(tail);
}
axisLabel(svg.append("text").attr("transform", "translate(268,620)"),
  [0, 16, 107, 124, 137, 162, 180], 83, "experimental");
axisLabel(svg.append("text").attr("transform", "translate(33,448) rotate(-90)"),
  [0, 22, 126, 143, 155, 180, 200], 92, "simulation");
</script>
</body>
</html>
